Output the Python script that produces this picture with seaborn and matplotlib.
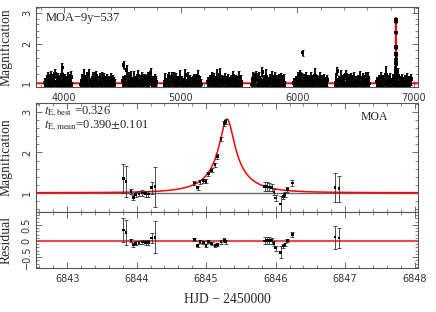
import numpy as np
import pandas as pd
import matplotlib
matplotlib.use("Agg")
import matplotlib.pyplot as plt
from matplotlib.ticker import MultipleLocator, FixedLocator
import seaborn as sns

# ---- 9-year baseline (HJD - 2450000), one list of magnifications per season
season_start = [3838, 4145, 4503, 4861, 5236, 5611, 5969, 6327, 6685]
season_end = [4068, 4435, 4793, 5176, 5526, 5892, 6259, 6617, 6975]
season_mag = [
    [1.02, 0.95, 1.08, 0.91, 1.12, 0.98, 1.05, 0.88, 1.15, 1.00, 0.93, 1.10, 0.97, 1.22, 0.90,
     1.04, 0.96, 1.13, 0.89, 1.07, 1.01, 0.94, 1.18, 0.99, 1.06, 0.92, 1.09, 0.87, 1.03, 0.97,
     1.11, 0.93, 1.05, 0.99, 1.14, 0.90],
    [0.98, 1.06, 0.90, 1.14, 1.01, 0.93, 1.09, 0.96, 1.20, 0.88, 1.03, 0.95, 1.11, 0.99, 0.91,
     1.07, 1.16, 0.94, 1.02, 0.89, 1.10, 0.97, 1.05, 0.92, 1.13, 1.00, 0.95, 1.08, 0.90, 1.04,
     0.96, 1.12, 0.93, 1.06, 1.01, 0.97],
    [1.05, 0.92, 1.10, 0.97, 1.30, 0.89, 1.03, 1.15, 0.95, 1.08, 0.91, 1.01, 1.12, 0.94, 1.06,
     0.98, 1.17, 0.90, 1.04, 0.96, 1.11, 0.93, 1.02, 1.09, 0.88, 1.00, 1.14, 0.95, 1.07, 1.23,
     0.97, 1.05, 0.92, 1.10, 0.99, 1.03],
    [0.96, 1.08, 0.91, 1.03, 1.12, 0.94, 1.00, 1.15, 0.89, 1.06, 0.97, 1.10, 0.92, 1.04, 0.99,
     1.13, 0.90, 1.07, 0.95, 1.01, 1.18, 0.93, 1.05, 0.98, 1.09, 0.88, 1.02, 0.96, 1.11, 0.94,
     1.06, 0.99, 1.14, 0.91, 1.03, 0.97],
    [1.03, 0.90, 1.09, 0.97, 1.14, 0.93, 1.06, 1.00, 0.88, 1.11, 0.95, 1.04, 1.19, 0.92, 1.07,
     0.98, 1.02, 1.13, 0.91, 1.05, 0.96, 1.10, 0.89, 1.01, 1.08, 0.94, 1.16, 0.99, 0.92, 1.06,
     1.02, 0.95, 1.12, 0.97, 1.04, 0.90],
    [0.97, 1.10, 0.93, 1.04, 1.16, 0.90, 1.07, 0.99, 1.12, 0.95, 1.02, 1.25, 0.91, 1.06, 0.98,
     1.14, 0.94, 1.03, 0.89, 1.09, 1.00, 1.17, 0.92, 1.05, 0.96, 1.11, 0.88, 1.04, 0.99, 1.08,
     0.94, 1.13, 1.01, 0.96, 1.07, 0.92],
    [1.01, 0.94, 1.07, 0.90, 1.12, 0.97, 1.05, 1.20, 0.92, 1.03, 0.96, 1.09, 0.89, 1.14, 1.00,
     0.95, 1.06, 0.91, 1.10, 0.98, 1.04, 0.93, 1.16, 0.99, 1.08, 0.90, 1.02, 1.13, 0.95, 1.05,
     0.97, 1.10, 0.93, 1.03, 1.00, 1.07],
    [0.95, 1.08, 1.27, 0.92, 1.04, 0.98, 1.13, 0.90, 1.06, 1.01, 0.94, 1.18, 0.97, 1.09, 0.89,
     1.03, 1.11, 0.93, 1.00, 1.15, 0.96, 1.05, 0.91, 1.07, 0.99, 1.12, 0.88, 1.02, 0.95, 1.10,
     1.04, 0.92, 1.08, 0.97, 1.13, 0.99],
    [1.04, 0.91, 1.09, 0.96, 1.14, 0.93, 1.02, 1.07, 0.89, 1.19, 0.97, 1.05, 0.92, 1.11, 1.00,
     0.94, 1.08, 0.90, 1.13, 0.98, 1.03, 0.95, 1.16, 0.91, 1.06, 0.99, 1.10, 0.93, 1.01, 1.07,
     0.96, 1.12, 0.94, 1.05, 0.98, 1.09],
]
season_err = [0.10, 0.14, 0.09, 0.18, 0.12, 0.11, 0.16, 0.10, 0.13, 0.20, 0.09, 0.12, 0.15, 0.11, 0.10,
              0.17, 0.12, 0.09, 0.14, 0.11, 0.13, 0.10, 0.19, 0.12, 0.10, 0.15, 0.11, 0.13, 0.09, 0.12,
              0.14, 0.10, 0.16, 0.11, 0.13, 0.12]
outlier_t = [6046, 4511, 3985]
outlier_mag = [1.74, 1.42, 1.36]
outlier_err = [0.08, 0.10, 0.10]

# ---- event data around the peak
t_obs = [6843.807, 6843.846, 6843.918, 6843.951, 6843.986, 6844.033, 6844.080, 6844.130,
         6844.167, 6844.216, 6844.263,
         6844.829, 6844.878, 6844.911, 6844.960, 6844.998, 6845.030, 6845.080, 6845.127,
         6845.160, 6845.214, 6845.260, 6845.280,
         6845.840, 6845.874, 6845.907, 6845.946, 6845.977, 6846.000, 6846.073, 6846.110,
         6846.135, 6846.168, 6846.240, 6846.855, 6846.913]
mag_obs = [1.35, 1.28, 1.03, 0.89, 0.95, 0.97, 0.99, 0.975, 0.97, 1.12, 1.15,
           1.24, 1.12, 1.27, 1.30, 1.28, 1.47, 1.56, 1.70,
           1.90, 2.34, 2.72, 2.77,
           1.16, 1.16, 1.14, 1.12, 1.02, 0.87, 0.72, 0.91,
           0.95, 1.07, 1.24, 1.13, 1.10]
err_obs = [0.36, 0.38, 0.06, 0.06, 0.06, 0.06, 0.07, 0.07, 0.08, 0.15, 0.50,
           0.05, 0.05, 0.05, 0.05, 0.05, 0.05, 0.05, 0.05,
           0.05, 0.05, 0.06, 0.06,
           0.11, 0.11, 0.10, 0.09, 0.07, 0.08, 0.19, 0.07,
           0.06, 0.06, 0.07, 0.36, 0.32]

# ---- point-lens model (shape tuned to the drawn curve)
t0, u0, tE, fs = 6845.30, 0.2, 0.56, 0.449


def model(t):
    u = np.sqrt(u0 ** 2 + ((np.asarray(t) - t0) / tE) ** 2)
    a = (u ** 2 + 2) / (u * np.sqrt(u ** 2 + 4))
    return 1 + fs * (a - 1)


sns.set_style("ticks")
plt.rcParams["font.family"] = ["Liberation Serif", "DejaVu Serif"]
plt.rcParams["mathtext.fontset"] = "stix"
plt.rcParams["axes.edgecolor"] = "#555555"
plt.rcParams["axes.linewidth"] = 0.8

fig = plt.figure(figsize=(4.36, 3.12), dpi=100)
ax1 = fig.add_axes([0.0826, 0.7212, 0.8761, 0.2564])
ax2 = fig.add_axes([0.0826, 0.3205, 0.8761, 0.3494])
ax3 = fig.add_axes([0.0826, 0.1410, 0.8761, 0.1795])

tick_family, tick_size = "DejaVu Sans", 7

# ---- top: long baseline
rows = []
for s0, s1, mags in zip(season_start, season_end, season_mag):
    ts = np.linspace(s0, s1, len(mags))
    for t, m, e in zip(ts, mags, season_err):
        rows.append((t, m, e))
for t, m, e in zip(outlier_t, outlier_mag, outlier_err):
    rows.append((t, m, e))
for t, m, e in zip(t_obs, mag_obs, err_obs):
    rows.append((t, m, e))
base = pd.DataFrame(rows, columns=["t", "mag", "err"])

ax1.set_yscale("function", functions=(np.sqrt, np.square))
tm = np.sort(np.concatenate([np.linspace(3760, 7035, 800), np.linspace(6843, 6848, 600)]))
sns.lineplot(x=tm, y=model(tm), ax=ax1, color="red", lw=1.4, sort=False, estimator=None, zorder=1)
ax1.errorbar(base["t"], base["mag"], yerr=base["err"], fmt="none", ecolor="black",
             elinewidth=1.3, capsize=1.0, capthick=0.6, zorder=2)
sns.scatterplot(data=base, x="t", y="mag", ax=ax1, color="black", marker="s", s=6,
                edgecolor="none", zorder=3)
ax1.set_xlim(3760, 7035)
ax1.set_ylim(0.925, 3.22)
ax1.xaxis.set_major_locator(MultipleLocator(1000))
ax1.xaxis.set_minor_locator(MultipleLocator(200))
ax1.yaxis.set_major_locator(FixedLocator([1, 2, 3]))
ax1.yaxis.set_minor_locator(MultipleLocator(0.2))
ax1.text(0.025, 0.86, "MOA\u22129y\u2212537", transform=ax1.transAxes, fontsize=9,
         ha="left", va="center")
ax1.set_ylabel("Magnification", fontsize=9.8)
ax1.yaxis.set_label_coords(-0.062, 0.5)

# ---- middle: zoom on the event
tz = np.linspace(6842.55, 6848.05, 1500)
ev = pd.DataFrame({"t": t_obs, "mag": mag_obs, "err": err_obs})
ev["res"] = ev["mag"] - model(ev["t"])
ax2.axhline(1.0, color="#666666", lw=1.0, zorder=1)
sns.lineplot(x=tz, y=model(tz), ax=ax2, color="red", lw=1.1, sort=False, estimator=None, zorder=2)
ax2.errorbar(ev["t"], ev["mag"], yerr=ev["err"], fmt="none", ecolor="#333333",
             elinewidth=0.6, capsize=1.5, capthick=0.6, zorder=3)
sns.scatterplot(data=ev, x="t", y="mag", ax=ax2, color="black", marker="s", s=4,
                edgecolor="none", zorder=4)
ax2.set_xlim(6842.55, 6848.05)
ax2.set_ylim(0.52, 3.23)
ax2.xaxis.set_major_locator(MultipleLocator(1))
ax2.xaxis.set_minor_locator(MultipleLocator(0.2))
ax2.yaxis.set_major_locator(MultipleLocator(1))
ax2.yaxis.set_minor_locator(MultipleLocator(0.2))
ax2.tick_params(axis="x", labelbottom=False)
ax2.text(0.022, 0.925, r"$t_{\rm E,best}$ =0.326", transform=ax2.transAxes, fontsize=9,
         ha="left", va="center")
ax2.text(0.022, 0.79, r"$t_{\rm E,mean}$=0.390$\pm$0.101", transform=ax2.transAxes,
         fontsize=9, ha="left", va="center")
ax2.text(0.887, 0.872, "MOA", transform=ax2.transAxes, fontsize=8.5, ha="center", va="center")
ax2.set_ylabel("Magnification", fontsize=9.8)
ax2.yaxis.set_label_coords(-0.062, 0.5)

# ---- bottom: residuals
ax3.axhline(0.0, color="#f04848", lw=1.5, zorder=1)
ax3.errorbar(ev["t"], ev["res"], yerr=ev["err"], fmt="none", ecolor="#333333",
             elinewidth=0.6, capsize=1.5, capthick=0.6, zorder=3)
sns.scatterplot(data=ev, x="t", y="res", ax=ax3, color="black", marker="s", s=4,
                edgecolor="none", zorder=4)
ax3.set_xlim(6842.55, 6848.05)
ax3.set_ylim(-0.84, 0.9)
ax3.xaxis.set_major_locator(MultipleLocator(1))
ax3.xaxis.set_minor_locator(MultipleLocator(0.2))
ax3.yaxis.set_major_locator(FixedLocator([-0.5, 0, 0.5]))
ax3.yaxis.set_minor_locator(MultipleLocator(0.1))
ax3.set_yticklabels(["\u22120.5", "0", "0.5"])
ax3.set_ylabel("Residual", fontsize=9.8)
ax3.yaxis.set_label_coords(-0.062, 0.5)
ax3.set_xlabel("HJD \u2212 2450000", fontsize=9.8)
ax3.xaxis.set_label_coords(0.5, -0.44)

for ax in (ax1, ax2, ax3):
    ax.tick_params(which="both", direction="in", top=True, right=True, color="#555555")
    ax.tick_params(which="major", length=4, width=0.6, pad=4)
    ax.tick_params(which="minor", length=2, width=0.5)
    ax.tick_params(axis="y", labelrotation=90, pad=3)
    for lab in ax.get_xticklabels() + ax.get_yticklabels():
        lab.set_fontfamily(tick_family)
        lab.set_fontsize(tick_size)
        lab.set_color("#333333")
    for lab in ax.get_yticklabels():
        lab.set_va("center")
    if ax is not ax3:
        ax.set_xlabel("")

fig.savefig("out.png", dpi=100)
